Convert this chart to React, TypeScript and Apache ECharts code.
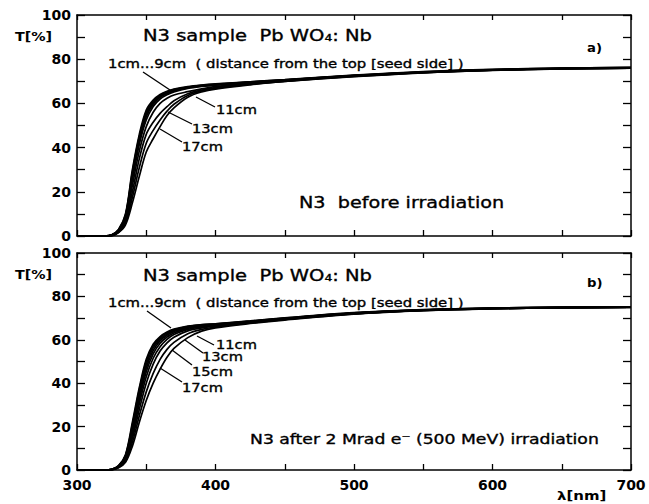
import React, { useEffect, useRef } from "react";
import * as echarts from "echarts";

// Wavelength grid (nm) shared by every transmission curve
const WAVELENGTH = [300, 320, 325, 330, 335, 340, 345, 350, 355, 360, 365, 370, 380, 390, 400, 425, 450, 500, 550, 600, 650, 700];

// a) before irradiation: transmission T[%] per slice position
const BEFORE_1CM = [0, 0, 0.5, 3, 10, 30, 46, 57, 61.5, 64, 65.5, 66.5, 67.6, 68.3, 68.8, 69.8, 70.8, 72.8, 74.4, 75.4, 76, 76.3];
const BEFORE_3CM = [0, 0, 0.5, 2.8, 9.5, 29, 45, 56, 61, 63.6, 65.2, 66.2, 67.4, 68.2, 68.7, 69.7, 70.7, 72.7, 74.3, 75.3, 75.9, 76.2];
const BEFORE_5CM = [0, 0, 0.4, 2.6, 9, 28, 44, 55, 60.3, 63.2, 64.8, 65.9, 67.2, 68, 68.5, 69.6, 70.6, 72.6, 74.2, 75.2, 75.9, 76.2];
const BEFORE_7CM = [0, 0, 0.4, 2.5, 8.5, 27, 43, 54, 59.6, 62.7, 64.4, 65.6, 67, 67.9, 68.4, 69.5, 70.5, 72.6, 74.2, 75.2, 75.8, 76.1];
const BEFORE_9CM = [0, 0, 0.3, 2.3, 8, 25.5, 41.5, 52.5, 58.6, 62, 63.9, 65.2, 66.8, 67.7, 68.3, 69.4, 70.4, 72.5, 74.1, 75.1, 75.8, 76.1];
const BEFORE_11CM = [0, 0, 0.3, 2.1, 7.2, 23, 38.5, 49.5, 56, 60, 62.3, 63.8, 65.3, 66.6, 67.6, 69.1, 70.3, 72.4, 74, 75.1, 75.7, 76];
const BEFORE_13CM = [0, 0, 0.2, 1.9, 6.5, 20, 35, 46, 51.5, 55.5, 58.5, 61.2, 64.4, 66, 67.1, 68.8, 70.1, 72.3, 73.9, 75, 75.7, 76];
const BEFORE_15CM = [0, 0, 0.2, 1.7, 5.8, 17.5, 31, 42, 47.8, 52.5, 56.5, 59.6, 63.6, 65.6, 66.8, 68.6, 70, 72.2, 73.9, 75, 75.6, 76];
const BEFORE_17CM = [0, 0, 0.1, 1.5, 5, 15, 27, 38, 44, 49.5, 54.5, 58, 62.8, 65.2, 66.5, 68.4, 69.9, 72.1, 73.8, 74.9, 75.6, 75.9];

// b) after 2 Mrad e- irradiation
const AFTER_1CM = [0, 0, 0.3, 2, 7, 22, 38, 51, 58, 61.5, 63.6, 64.9, 66.3, 67, 67.4, 68.7, 70.1, 72.5, 73.9, 74.6, 75, 75.1];
const AFTER_3CM = [0, 0, 0.3, 1.9, 6.7, 21, 37, 50, 57.3, 61, 63.2, 64.6, 66.1, 66.9, 67.3, 68.6, 70, 72.4, 73.8, 74.6, 75, 75.1];
const AFTER_5CM = [0, 0, 0.3, 1.8, 6.4, 20, 35.5, 48.5, 56.3, 60.3, 62.7, 64.2, 65.9, 66.7, 67.2, 68.5, 69.9, 72.4, 73.8, 74.6, 74.9, 75.1];
const AFTER_7CM = [0, 0, 0.2, 1.7, 6, 19, 34, 47, 55, 59.5, 62.1, 63.8, 65.6, 66.5, 67, 68.4, 69.8, 72.3, 73.7, 74.5, 74.9, 75];
const AFTER_9CM = [0, 0, 0.2, 1.6, 5.6, 17.8, 32.5, 45.3, 53.5, 58.4, 61.3, 63.2, 65.3, 66.3, 66.8, 68.3, 69.7, 72.2, 73.7, 74.5, 74.9, 75];
const AFTER_11CM = [0, 0, 0.2, 1.5, 5.1, 16.3, 30.5, 43, 51.5, 56.8, 60.2, 62.4, 64.8, 66, 66.6, 68.1, 69.6, 72.1, 73.6, 74.4, 74.8, 75];
const AFTER_13CM = [0, 0, 0.1, 1.3, 4.6, 14.6, 28, 40, 48.8, 54.8, 58.6, 61.2, 64.1, 65.5, 66.3, 67.9, 69.5, 72, 73.6, 74.4, 74.8, 75];
const AFTER_15CM = [0, 0, 0.1, 1.1, 4, 12.8, 25, 36, 44.5, 51, 55.6, 58.8, 62.8, 64.8, 65.9, 67.7, 69.3, 71.9, 73.5, 74.3, 74.7, 74.9];
const AFTER_17CM = [0, 0, 0.1, 1, 3.5, 11, 22, 32, 40, 46.5, 52, 56, 61, 64, 65.5, 67.5, 69.1, 71.8, 73.4, 74.3, 74.7, 74.9];

const SLICES = ["1cm", "3cm", "5cm", "7cm", "9cm", "11cm", "13cm", "15cm", "17cm"];
const BEFORE = [BEFORE_1CM, BEFORE_3CM, BEFORE_5CM, BEFORE_7CM, BEFORE_9CM, BEFORE_11CM, BEFORE_13CM, BEFORE_15CM, BEFORE_17CM];
const AFTER = [AFTER_1CM, AFTER_3CM, AFTER_5CM, AFTER_7CM, AFTER_9CM, AFTER_11CM, AFTER_13CM, AFTER_15CM, AFTER_17CM];

const X_MIN = 300;
const X_MAX = 700;
const X_STEP = 50;
const X_LABEL_STEP = 100;
const Y_MIN = 0;
const Y_MAX = 100;
const Y_STEP = 10;
const Y_LABEL_STEP = 20;

const FONT = "DejaVu Sans";
const INK = "#000";
// the annotation typeface is a wide grotesque; stretch DejaVu horizontally
const WIDE = 1.22;

function buildSeries(curves: number[][], panel: number) {
  return curves.map((vals, i) => ({
    name: `${panel === 0 ? "a" : "b"} ${SLICES[i]}`,
    type: "line",
    xAxisIndex: panel * 2,
    yAxisIndex: panel * 2,
    data: WAVELENGTH.map((w, k) => [w, vals[k]]),
    smooth: 0.35,
    showSymbol: false,
    lineStyle: { color: INK, width: 1.7 },
    z: 5,
  }));
}

function xAxes(grid: number, withLabels: boolean) {
  const base = {
    type: "value",
    gridIndex: grid,
    min: X_MIN,
    max: X_MAX,
    interval: X_STEP,
    splitLine: { show: false },
    axisLine: { show: true, onZero: false, lineStyle: { color: INK, width: 1.5 } },
  };
  return [
    {
      ...base,
      position: "bottom",
      axisTick: { show: true, inside: true, length: 6, lineStyle: { color: INK, width: 1.3 } },
      axisLabel: withLabels
        ? {
            show: true,
            margin: 8,
            color: INK,
            fontFamily: FONT,
            fontWeight: "bold",
            fontSize: 14,
            formatter: (v: number) => (v % X_LABEL_STEP === 0 ? String(v) : ""),
          }
        : { show: false },
    },
    {
      ...base,
      position: "top",
      axisTick: { show: true, inside: true, length: 5, lineStyle: { color: INK, width: 1.3 } },
      axisLabel: { show: false },
    },
  ];
}

function yAxes(grid: number) {
  const base = {
    type: "value",
    gridIndex: grid,
    min: Y_MIN,
    max: Y_MAX,
    interval: Y_STEP,
    splitLine: { show: false },
    axisLine: { show: true, onZero: false, lineStyle: { color: INK, width: 1.5 } },
    axisTick: { show: true, inside: true, length: 8, lineStyle: { color: INK, width: 1.3 } },
  };
  return [
    {
      ...base,
      position: "left",
      axisLabel: {
        show: true,
        margin: 6,
        color: INK,
        fontFamily: FONT,
        fontWeight: "bold",
        fontSize: 14,
        formatter: (v: number) => (v % Y_LABEL_STEP === 0 ? String(v) : ""),
      },
    },
    { ...base, position: "right", axisLabel: { show: false } },
  ];
}

function txt(x: number, y: number, text: string, size: number, weight = "normal", stretch = WIDE) {
  return {
    type: "text",
    x,
    y,
    scaleX: stretch,
    style: {
      text,
      fill: INK,
      stroke: INK,
      lineWidth: weight === "bold" ? 0 : 0.35,
      font: `${weight} ${size}px "${FONT}"`,
      textVerticalAlign: "middle",
    },
    z: 20,
  };
}

function leader(x1: number, y1: number, x2: number, y2: number) {
  return {
    type: "line",
    shape: { x1, y1, x2, y2 },
    style: { stroke: INK, lineWidth: 1.3 },
    z: 20,
  };
}

export default function App() {
  const ref = useRef<HTMLDivElement>(null);

  useEffect(() => {
    if (!ref.current) return;
    const chart = echarts.init(ref.current, undefined, { renderer: "svg" });
    chart.setOption({
      animation: false,
      backgroundColor: "#fff",
      grid: [
        { left: 77, top: 15, width: 554, height: 221 },
        { left: 77, top: 253, width: 554, height: 217 },
      ],
      xAxis: [...xAxes(0, false), ...xAxes(1, true)],
      yAxis: [...yAxes(0), ...yAxes(1)],
      series: [...buildSeries(BEFORE, 0), ...buildSeries(AFTER, 1)],
      graphic: [
        // panel a)
        txt(15, 36, "T[%]", 13, "bold", 1.1),
        txt(143, 35, "N3 sample  Pb WO₄: Nb", 16),
        txt(587, 48, "a)", 12, "bold", 1.1),
        txt(108, 64, "1cm...9cm  ( distance from the top [seed side] )", 11.5, "normal", 1.29),
        txt(216, 110, "11cm", 12),
        txt(192, 129, "13cm", 12),
        txt(182, 147, "17cm", 12),
        txt(299, 203, "N3  before irradiation", 16, "normal", 1.2),
        leader(143, 72, 170, 90),
        leader(196, 97, 215, 107),
        leader(168, 112, 192, 124),
        leader(160, 129, 182, 142),
        // panel b)
        txt(15, 274, "T[%]", 13, "bold", 1.1),
        txt(143, 275, "N3 sample  Pb WO₄: Nb", 16),
        txt(587, 283, "b)", 12, "bold", 1.1),
        txt(108, 303, "1cm...9cm  ( distance from the top [seed side] )", 11.5, "normal", 1.29),
        txt(216, 345, "11cm", 12),
        txt(202, 357, "13cm", 12),
        txt(192, 372, "15cm", 12),
        txt(182, 388, "17cm", 12),
        txt(250, 439, "N3 after 2 Mrad e⁻ (500 MeV) irradiation", 14, "normal", 1.23),
        leader(147, 311, 171, 328),
        leader(197, 336, 214, 345),
        leader(185, 340, 203, 353),
        leader(172, 350, 192, 365),
        leader(160, 368, 182, 382),
        txt(557, 495, "λ[nm]", 13, "bold", 1.15),
      ],
    });
    return () => chart.dispose();
  }, []);

  return (
    <div
      ref={ref}
      style={{ position: "fixed", left: 0, top: 0, width: 649, height: 504, background: "#fff" }}
    />
  );
}
